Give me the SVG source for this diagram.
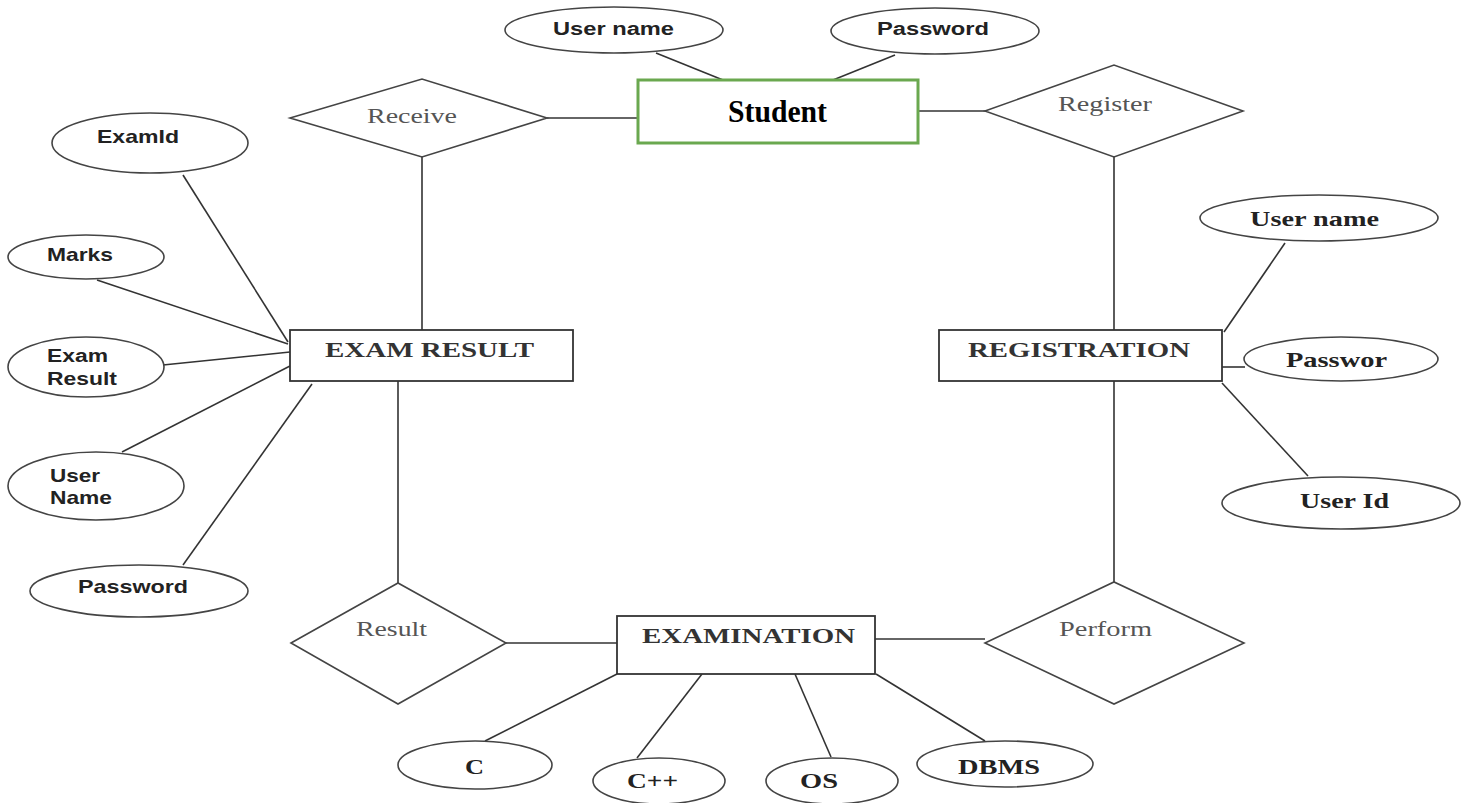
<svg xmlns="http://www.w3.org/2000/svg" width="1470" height="803" viewBox="0 0 1470 803">
<style>
.bg{fill:#ffffff}
.ln{stroke:#333;stroke-width:1.6;fill:none}
.ent{fill:#fff;stroke:#333;stroke-width:1.8}
.rel{fill:#fff;stroke:#444;stroke-width:1.6}
.att{fill:#fff;stroke:#444;stroke-width:1.6}
.sa{font-family:"Liberation Sans",Arial,sans-serif;font-weight:bold;font-size:19px;fill:#222}
.tb{font-family:"Liberation Serif","Times New Roman",serif;font-weight:bold;font-size:22px;fill:#333}
.tr{font-family:"Liberation Serif","Times New Roman",serif;font-size:21px;fill:#555}
.tbk{font-family:"Liberation Serif","Times New Roman",serif;font-weight:bold;font-size:21px;fill:#222}
</style>
<rect class="bg" x="0" y="0" width="1470" height="803"/>
<g id="connectors">
<line class="ln" x1="656" y1="53" x2="723" y2="80"/>
<line class="ln" x1="895" y1="55" x2="833" y2="80"/>
<line class="ln" x1="547" y1="118" x2="638" y2="118"/>
<line class="ln" x1="918" y1="111" x2="985" y2="111"/>
<line class="ln" x1="422" y1="157" x2="422" y2="330"/>
<line class="ln" x1="1114" y1="157" x2="1114" y2="330"/>
<line class="ln" x1="183" y1="175" x2="288" y2="342"/>
<line class="ln" x1="97" y1="280" x2="288" y2="344"/>
<line class="ln" x1="163" y1="365" x2="290" y2="352"/>
<line class="ln" x1="122" y1="452" x2="290" y2="366"/>
<line class="ln" x1="183" y1="565" x2="312" y2="384"/>
<line class="ln" x1="398" y1="381" x2="398" y2="583"/>
<line class="ln" x1="1285" y1="243" x2="1224" y2="332"/>
<line class="ln" x1="1222" y1="367" x2="1245" y2="367"/>
<line class="ln" x1="1222" y1="383" x2="1308" y2="476"/>
<line class="ln" x1="1114" y1="381" x2="1114" y2="582"/>
<line class="ln" x1="506" y1="643" x2="617" y2="643"/>
<line class="ln" x1="875" y1="639" x2="985" y2="639"/>
<line class="ln" x1="617" y1="674" x2="485" y2="741"/>
<line class="ln" x1="702" y1="674" x2="637" y2="758"/>
<line class="ln" x1="795" y1="674" x2="831" y2="757"/>
<line class="ln" x1="876" y1="674" x2="985" y2="741"/>
</g>
<g id="student">
<rect x="638" y="80" width="280" height="63" fill="#fff" stroke="#6aa84f" stroke-width="3"/>
<text x="728" y="122" textLength="99" lengthAdjust="spacingAndGlyphs" style="font-family:'Liberation Serif','Times New Roman',serif;font-weight:bold;font-size:32px;fill:#000">Student</text>
</g>
<g id="student-username">
<ellipse class="att" cx="614" cy="30" rx="109" ry="23"/>
<text class="sa" x="553" y="35" textLength="121" lengthAdjust="spacingAndGlyphs" style="font-size:18px">User name</text>
</g>
<g id="student-password">
<ellipse class="att" cx="935" cy="31" rx="104" ry="23"/>
<text class="sa" x="877" y="35" textLength="112" lengthAdjust="spacingAndGlyphs" style="font-size:18px">Password</text>
</g>
<g id="receive">
<polygon class="rel" points="290,118 422,79 547,118 422,157"/>
<text class="tr" x="367" y="123" textLength="90" lengthAdjust="spacingAndGlyphs">Receive</text>
</g>
<g id="register">
<polygon class="rel" points="985,111 1114,65 1243,111 1114,157"/>
<text class="tr" x="1058" y="111" textLength="94" lengthAdjust="spacingAndGlyphs">Register</text>
</g>
<g id="exam-result">
<rect class="ent" x="290" y="330" width="283" height="51"/>
<text class="tb" x="325" y="357" textLength="209" lengthAdjust="spacingAndGlyphs">EXAM RESULT</text>
</g>
<g id="registration">
<rect class="ent" x="939" y="330" width="283" height="51"/>
<text class="tb" x="968" y="357" textLength="222" lengthAdjust="spacingAndGlyphs">REGISTRATION</text>
</g>
<g id="attr-examid">
<ellipse class="att" cx="150" cy="143" rx="98" ry="30"/>
<text class="sa" x="97" y="143" textLength="82" lengthAdjust="spacingAndGlyphs">ExamId</text>
</g>
<g id="attr-marks">
<ellipse class="att" cx="86" cy="257" rx="78" ry="22"/>
<text class="sa" x="47" y="261" textLength="66" lengthAdjust="spacingAndGlyphs">Marks</text>
</g>
<g id="attr-examresult">
<ellipse class="att" cx="86" cy="367" rx="78" ry="30"/>
<text class="sa" x="47" y="362" textLength="61" lengthAdjust="spacingAndGlyphs" style="font-size:18px">Exam</text>
<text class="sa" x="47" y="385" textLength="70" lengthAdjust="spacingAndGlyphs" style="font-size:18px">Result</text>
</g>
<g id="attr-username">
<ellipse class="att" cx="96" cy="486" rx="88" ry="34"/>
<text class="sa" x="50" y="482" textLength="50" lengthAdjust="spacingAndGlyphs">User</text>
<text class="sa" x="50" y="504" textLength="62" lengthAdjust="spacingAndGlyphs">Name</text>
</g>
<g id="attr-password">
<ellipse class="att" cx="139" cy="591" rx="109" ry="26"/>
<text class="sa" x="78" y="593" textLength="110" lengthAdjust="spacingAndGlyphs">Password</text>
</g>
<g id="reg-username">
<ellipse class="att" cx="1319" cy="218" rx="119" ry="23"/>
<text class="tbk" x="1250" y="226" textLength="129" lengthAdjust="spacingAndGlyphs">User name</text>
</g>
<g id="reg-passwor">
<ellipse class="att" cx="1341" cy="359" rx="97" ry="22"/>
<text class="tbk" x="1286" y="367" textLength="101" lengthAdjust="spacingAndGlyphs">Passwor</text>
</g>
<g id="reg-userid">
<ellipse class="att" cx="1341" cy="503" rx="119" ry="26"/>
<text class="tbk" x="1300" y="508" textLength="89" lengthAdjust="spacingAndGlyphs">User Id</text>
</g>
<g id="result">
<polygon class="rel" points="291,643 398,583 506,643 398,704"/>
<text class="tr" x="356" y="636" textLength="71" lengthAdjust="spacingAndGlyphs">Result</text>
</g>
<g id="examination">
<rect class="ent" x="617" y="616" width="258" height="58"/>
<text class="tb" x="642" y="643" textLength="213" lengthAdjust="spacingAndGlyphs">EXAMINATION</text>
</g>
<g id="perform">
<polygon class="rel" points="985,643 1114,582 1244,643 1114,704"/>
<text class="tr" x="1059" y="636" textLength="93" lengthAdjust="spacingAndGlyphs">Perform</text>
</g>
<g id="attr-c">
<ellipse class="att" cx="475" cy="765" rx="77" ry="24"/>
<text class="tbk" x="465" y="774" textLength="19" lengthAdjust="spacingAndGlyphs" style="font-size:22px">C</text>
</g>
<g id="attr-cpp">
<ellipse class="att" cx="659" cy="781" rx="66" ry="23"/>
<text class="tbk" x="627" y="788" textLength="51" lengthAdjust="spacingAndGlyphs" style="font-size:22px">C++</text>
</g>
<g id="attr-os">
<ellipse class="att" cx="832" cy="781" rx="66" ry="23"/>
<text class="tbk" x="800" y="788" textLength="38" lengthAdjust="spacingAndGlyphs" style="font-size:22px">OS</text>
</g>
<g id="attr-dbms">
<ellipse class="att" cx="1005" cy="764" rx="88" ry="23"/>
<text class="tbk" x="958" y="774" textLength="82" lengthAdjust="spacingAndGlyphs" style="font-size:22px">DBMS</text>
</g>
</svg>
